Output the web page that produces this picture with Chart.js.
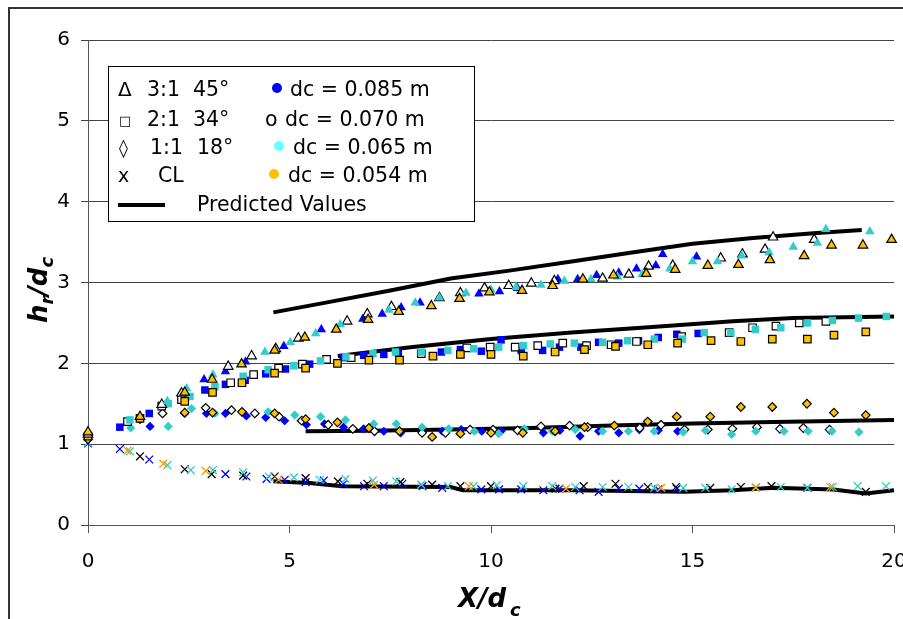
<!DOCTYPE html>
<html>
<head>
<meta charset="utf-8">
<script src="https://cdn.jsdelivr.net/npm/chart.js@4.4.0/dist/chart.umd.min.js"></script>
<style>
  html, body { margin: 0; padding: 0; background: #fff; }
  #wrap { width: 903px; height: 619px; }
</style>
</head>
<body>
<div id="wrap"><canvas id="myChart" width="903" height="619"></canvas></div>
<script>
// [X/dc, hr/dc]
// 3:1 45 deg (triangles)
const triBlue = [[2.88,1.80],[3.41,1.90],[3.91,2.02],[4.86,2.21],[5.79,2.42],[6.82,2.55],[7.30,2.61],[7.77,2.69],[8.24,2.75],[9.70,2.86],[10.21,2.89],[10.66,2.93],[11.66,3.04],[12.15,3.04],[12.62,3.09],[13.17,3.12],[13.61,3.17],[14.09,3.21],[14.26,3.35],[15.10,3.32]];
const triOpen = [[0,1.12],[1.83,1.49],[2.32,1.63],[3.48,1.96],[4.06,2.09],[4.66,2.18],[5.22,2.31],[6.43,2.52],[6.93,2.61],[7.53,2.70],[8.72,2.81],[9.24,2.87],[9.84,2.93],[10.44,2.96],[11.0,2.99],[11.57,3.02],[12.77,3.05],[13.42,3.10],[13.91,3.20],[14.51,3.21],[15.70,3.30],[16.24,3.35],[16.80,3.41],[17.0,3.56],[18.02,3.53]];
const triCyan = [[1.97,1.53],[2.45,1.69],[3.10,1.86],[4.39,2.14],[5.02,2.26],[5.65,2.37],[6.26,2.48],[7.47,2.66],[8.12,2.75],[8.72,2.81],[9.38,2.87],[10.0,2.91],[10.62,2.94],[11.24,2.97],[11.82,3.02],[12.48,3.04],[13.14,3.07],[13.75,3.10],[14.44,3.17],[15.0,3.26],[15.62,3.26],[16.22,3.33],[16.90,3.37],[17.50,3.44],[18.10,3.49],[18.31,3.66],[19.40,3.63]];
const triOrange = [[0,1.15],[1.29,1.34],[2.40,1.64],[3.08,1.80],[3.81,1.99],[4.63,2.16],[5.38,2.32],[6.16,2.42],[6.95,2.54],[7.71,2.64],[8.52,2.71],[9.22,2.80],[9.96,2.88],[10.77,2.90],[11.53,2.96],[12.28,3.04],[13.04,3.09],[13.85,3.11],[14.57,3.16],[15.38,3.21],[16.14,3.22],[16.92,3.28],[17.77,3.33],[18.45,3.46],[19.23,3.46],[19.94,3.53]];

// 2:1 34 deg (squares)
const sqBlue = [[0.79,1.21],[1.52,1.38],[2.90,1.67],[3.41,1.74],[3.90,1.79],[4.41,1.87],[4.90,1.93],[5.50,1.99],[6.33,2.07],[6.84,2.10],[7.34,2.11],[7.70,2.13],[8.77,2.14],[9.24,2.17],[9.76,2.15],[10.25,2.29],[10.75,2.16],[11.28,2.16],[11.70,2.20],[12.23,2.20],[12.67,2.26],[13.17,2.25],[13.66,2.28],[14.15,2.32],[14.61,2.36],[15.14,2.37]];
const sqOpen = [[0.98,1.28],[1.83,1.47],[2.32,1.55],[3.54,1.76],[4.11,1.86],[4.73,1.94],[5.32,1.99],[5.92,2.05],[6.53,2.07],[8.27,2.12],[9.40,2.19],[9.98,2.20],[10.60,2.20],[11.16,2.22],[11.78,2.25],[12.37,2.22],[12.98,2.23],[13.61,2.27],[14.73,2.33],[15.91,2.38],[16.49,2.44],[17.07,2.46],[17.65,2.50],[18.31,2.52]];
const sqCyan = [[1.04,1.30],[1.99,1.50],[2.53,1.59],[3.15,1.71],[3.85,1.84],[4.47,1.92],[5.11,1.97],[5.77,2.03],[6.40,2.08],[7.07,2.12],[7.63,2.14],[8.27,2.14],[8.93,2.16],[9.57,2.18],[10.19,2.20],[10.80,2.22],[11.47,2.24],[12.07,2.25],[12.77,2.26],[13.39,2.28],[14.05,2.30],[14.75,2.30],[15.29,2.38],[15.95,2.38],[16.56,2.42],[17.19,2.44],[17.85,2.50],[18.47,2.53],[19.12,2.56],[19.81,2.58]];
const sqOrange = [[0,1.10],[1.29,1.32],[2.40,1.53],[3.09,1.64],[3.82,1.76],[4.63,1.88],[5.40,1.94],[6.19,2.00],[6.97,2.04],[7.73,2.04],[8.56,2.09],[9.24,2.11],[10.0,2.11],[10.80,2.09],[11.59,2.14],[12.32,2.17],[13.09,2.21],[13.89,2.23],[14.63,2.25],[15.46,2.28],[16.20,2.27],[16.98,2.30],[17.85,2.30],[18.51,2.35],[19.30,2.39]];

// 1:1 18 deg (diamonds)
const dmBlue = [[1.54,1.22],[2.40,1.38],[2.94,1.38],[3.41,1.38],[3.93,1.35],[4.41,1.33],[4.88,1.29],[5.42,1.24],[5.87,1.25],[6.34,1.21],[6.84,1.19],[7.34,1.16],[7.76,1.14],[8.79,1.16],[9.26,1.18],[9.77,1.16],[10.25,1.16],[11.30,1.14],[11.71,1.17],[12.21,1.10],[12.67,1.16],[13.17,1.14],[13.68,1.18],[14.15,1.17],[14.63,1.16]];
const dmOpen = [[1.85,1.38],[2.92,1.45],[3.56,1.42],[4.14,1.38],[4.74,1.34],[5.30,1.29],[5.96,1.24],[6.57,1.19],[7.11,1.16],[8.29,1.14],[8.87,1.14],[9.48,1.18],[10.05,1.18],[10.66,1.17],[11.24,1.22],[11.95,1.23],[12.40,1.21],[13.69,1.20],[14.22,1.24],[14.80,1.18],[15.38,1.18],[15.99,1.19],[16.60,1.21],[17.17,1.19],[17.75,1.20],[18.40,1.18]];
const dmCyan = [[1.06,1.20],[1.99,1.22],[2.57,1.44],[3.15,1.38],[4.47,1.40],[5.13,1.36],[5.77,1.34],[6.39,1.30],[7.09,1.25],[7.65,1.25],[8.29,1.21],[8.95,1.19],[9.59,1.16],[10.19,1.13],[10.83,1.19],[11.52,1.16],[12.09,1.18],[12.77,1.16],[13.41,1.16],[14.05,1.16],[14.77,1.15],[15.32,1.17],[15.97,1.12],[16.57,1.16],[17.27,1.16],[17.87,1.16],[18.46,1.16],[19.13,1.15]];
const dmOrange = [[0,1.06],[1.29,1.31],[2.40,1.39],[3.09,1.39],[3.82,1.40],[4.63,1.38],[5.40,1.31],[6.19,1.27],[6.97,1.20],[7.73,1.16],[8.54,1.09],[9.24,1.13],[10.0,1.14],[10.79,1.14],[11.59,1.16],[12.32,1.21],[13.06,1.23],[13.89,1.28],[14.61,1.34],[15.44,1.34],[16.20,1.46],[16.98,1.46],[17.84,1.50],[18.51,1.39],[19.30,1.36]];

// CL (crosses)
const clBlue = [[0,1.01],[0.79,0.94],[1.52,0.81],[3.41,0.63],[3.93,0.60],[4.43,0.57],[4.88,0.56],[5.40,0.53],[5.85,0.55],[6.34,0.51],[6.85,0.48],[7.34,0.48],[7.80,0.51],[8.30,0.48],[8.79,0.46],[9.76,0.44],[10.20,0.44],[10.75,0.44],[11.30,0.43],[11.70,0.45],[12.20,0.43],[12.67,0.41],[13.17,0.45],[13.68,0.45],[14.15,0.44],[14.61,0.45]];
const clBlack = [[1.29,0.85],[2.40,0.69],[3.07,0.63],[3.85,0.61],[4.63,0.60],[5.40,0.58],[6.20,0.54],[6.93,0.51],[7.75,0.53],[8.54,0.50],[9.24,0.48],[10.0,0.48],[11.60,0.45],[12.30,0.48],[13.09,0.51],[13.89,0.47],[14.59,0.47],[15.44,0.46],[16.20,0.47],[16.96,0.48],[17.85,0.46],[19.30,0.41]];
const clCyan = [[0,1.02],[1.04,0.91],[1.97,0.74],[2.55,0.68],[3.10,0.68],[3.85,0.65],[4.49,0.60],[5.11,0.59],[5.75,0.56],[6.39,0.57],[7.07,0.55],[7.65,0.54],[8.27,0.50],[8.93,0.48],[9.56,0.48],[10.14,0.49],[10.80,0.48],[11.52,0.48],[12.09,0.47],[12.77,0.47],[13.41,0.47],[14.05,0.46],[14.77,0.46],[15.32,0.46],[15.97,0.44],[16.57,0.46],[17.19,0.47],[17.85,0.46],[18.48,0.47],[19.10,0.48],[19.80,0.48]];
const clOrange = [[0.98,0.92],[1.87,0.76],[2.92,0.67],[4.73,0.56],[7.10,0.50],[9.45,0.48],[11.86,0.45],[14.22,0.46],[16.57,0.47],[18.42,0.47]];

// predicted values
const predTri = [[4.6,2.63],[6,2.76],[7.5,2.9],[9,3.05],[10.5,3.15],[12,3.26],[13.5,3.37],[15,3.48],[16.5,3.55],[18,3.61],[19.2,3.65]];
const predSq = [[6.2,2.09],[8,2.2],[10,2.3],[12,2.38],[14,2.45],[16,2.52],[17.5,2.56],[20,2.58]];
const predDm = [[5.4,1.16],[7,1.165],[9,1.18],[11,1.2],[13,1.23],[15,1.255],[17,1.275],[20,1.3]];
const predCL = [[4.6,0.54],[5.5,0.52],[6.3,0.48],[9.0,0.47],[9.3,0.43],[12,0.43],[14.8,0.41],[16,0.43],[17,0.46],[18.5,0.44],[19.3,0.39],[20,0.43]];

const shapeLabels = ['\u0394', '\u25A1', '\u25CA', 'x'];
const angleLabels = [['3:1', '45\u00B0'], ['2:1', '34\u00B0'], ['1:1', '18\u00B0'], ['CL', '']];
const dcLabels = ['dc = 0.085 m', 'dc = 0.070 m', 'dc = 0.065 m', 'dc = 0.054 m'];
const yTicks = [0, 1, 2, 3, 4, 5, 6];
const xTicks = [0, 5, 10, 15, 20];

const BLUE = '#0000ff', CYAN = '#33cccc', ORANGE = '#ffc000', XORANGE = '#ff9900';
const FONT = '"DejaVu Sans", sans-serif';

function pts(arr) { return arr.map(p => ({ x: p[0], y: p[1] })); }

function marker(arr, style, fill, border, r, bw) {
  return {
    data: pts(arr), pointStyle: style, pointRadius: r,
    backgroundColor: fill, borderColor: border, borderWidth: bw,
    showLine: false, clip: false
  };
}
function predLine(arr) {
  return {
    data: pts(arr), showLine: true, borderColor: '#000', borderWidth: 4,
    pointRadius: 0, tension: 0, clip: false, fill: false
  };
}

// first in list is drawn on top
const datasets = [
  marker(triOrange, 'triangle', ORANGE, '#000', 5.5, 1.2),
  marker(triCyan, 'triangle', CYAN, CYAN, 5.5, 0),
  marker(triOpen, 'triangle', '#fff', '#000', 5.5, 1.2),
  marker(triBlue, 'triangle', BLUE, BLUE, 5.5, 0),
  marker(sqOrange, 'rect', ORANGE, '#000', 5.3, 1.2),
  marker(sqCyan, 'rect', CYAN, CYAN, 5.3, 0),
  marker(sqOpen, 'rect', '#fff', '#000', 5.3, 1.2),
  marker(sqBlue, 'rect', BLUE, BLUE, 5.3, 0),
  marker(dmOrange, 'rectRot', ORANGE, '#000', 4.3, 1.2),
  marker(dmCyan, 'rectRot', CYAN, CYAN, 4.6, 0),
  marker(dmOpen, 'rectRot', '#fff', '#000', 4.3, 1.2),
  marker(dmBlue, 'rectRot', BLUE, BLUE, 4.6, 0),
  marker(clOrange, 'crossRot', XORANGE, XORANGE, 5.5, 1.3),
  marker(clCyan, 'crossRot', CYAN, CYAN, 5.5, 1.3),
  marker(clBlack, 'crossRot', '#000', '#000', 5.5, 1.3),
  marker(clBlue, 'crossRot', BLUE, BLUE, 5.5, 1.3),
  predLine(predTri),
  predLine(predSq),
  predLine(predDm),
  predLine(predCL)
];

// white page + frame
const frame = {
  id: 'frame',
  beforeDraw(chart) {
    const c = chart.ctx;
    c.save();
    c.fillStyle = '#fff';
    c.fillRect(0, 0, chart.width, chart.height);
    c.strokeStyle = '#333';
    c.lineWidth = 2;
    c.strokeRect(9, 8, 1000, 1000);
    c.restore();
  }
};

// legend box and axis titles drawn by hand
const extras = {
  id: 'extras',
  afterDraw(chart) {
    const c = chart.ctx;
    c.save();
    c.fillStyle = '#fff';
    c.fillRect(108, 66, 366, 155);
    c.strokeStyle = '#000';
    c.lineWidth = 1;
    c.strokeRect(108.5, 66.5, 366, 155);

    const base = [96, 126, 154, 182];
    c.fillStyle = '#000';
    c.textBaseline = 'alphabetic';
    c.textAlign = 'left';
    // left column
    c.font = '20px ' + FONT;
    c.fillText(shapeLabels[0], 118, base[0]);
    c.font = '13px ' + FONT;
    c.fillText(shapeLabels[1], 119, base[1] - 1);
    c.font = 'bold 18px ' + FONT;
    c.fillText(shapeLabels[2], 119, base[2]);
    c.font = '19px ' + FONT;
    c.fillText(shapeLabels[3], 118, base[3]);
    c.font = '20.5px ' + FONT;
    const angX = [[147, 193], [147, 193], [150, 197], [158, 0]];
    angleLabels.forEach((a, i) => {
      c.fillText(a[0], angX[i][0], base[i]);
      if (a[1]) c.fillText(a[1], angX[i][1], base[i]);
    });
    // right column
    const dcX = [290, 285, 293, 288];
    dcLabels.forEach((t, i) => c.fillText(t, dcX[i], base[i]));
    c.fillText('o', 265, base[1]);
    const dots = [[277, BLUE], null, [279, '#66ffff'], [274, ORANGE]];
    dots.forEach((d, i) => {
      if (!d) return;
      c.beginPath();
      c.arc(d[0], base[i] - 8, 5, 0, Math.PI * 2);
      c.fillStyle = d[1];
      c.fill();
    });
    c.fillStyle = '#000';
    c.fillRect(118, 203, 47, 4);
    c.fillText('Predicted Values', 197, 211);

    // x title
    c.font = 'italic bold 26px ' + FONT;
    c.fillText('X/d', 458, 607);
    c.font = 'italic bold 18px ' + FONT;
    c.fillText('c', 510, 616);

    // y title
    c.translate(47, 290);
    c.rotate(-Math.PI / 2);
    const big = 'italic bold 26px ' + FONT, small = 'italic bold 18px ' + FONT;
    const parts = [['h', big, 0], ['r', small, 6], ['/d', big, 0], ['c', small, 6]];
    let w = 0;
    parts.forEach(p => { c.font = p[1]; w += c.measureText(p[0]).width; });
    let x = -w / 2;
    parts.forEach(p => { c.font = p[1]; c.fillText(p[0], x, p[2]); x += c.measureText(p[0]).width; });
    c.restore();
  }
};

const ctx = document.getElementById('myChart');
const chart = new Chart(ctx, {
  type: 'scatter',
  data: { datasets: datasets },
  options: {
    responsive: false,
    animation: false,
    devicePixelRatio: 1,
    events: [],
    layout: { padding: { left: 0, top: 40, right: 9, bottom: 0 } },
    plugins: { legend: { display: false }, tooltip: { enabled: false }, title: { display: false } },
    scales: {
      x: {
        type: 'linear', min: 0, max: 20,
        afterBuildTicks: s => { s.ticks = xTicks.map(v => ({ value: v })); },
        afterFit: s => { s.height = 94; s.paddingLeft = 0; s.paddingRight = 0; },
        ticks: { color: '#000', font: { family: FONT, size: 20 }, padding: 17, maxRotation: 0 },
        grid: { drawOnChartArea: false, drawTicks: true, tickLength: 8, color: '#555', lineWidth: 1 },
        border: { display: true, color: '#555', width: 1 }
      },
      y: {
        type: 'linear', min: 0, max: 6,
        afterBuildTicks: s => { s.ticks = yTicks.map(v => ({ value: v })); },
        afterFit: s => { s.width = 88; s.paddingTop = 0; s.paddingBottom = 0; },
        ticks: { color: '#000', font: { family: FONT, size: 20 }, padding: 11 },
        grid: { drawOnChartArea: true, drawTicks: true, tickLength: 7, color: '#444', lineWidth: 1 },
        border: { display: true, color: '#555', width: 1 }
      }
    }
  },
  plugins: [frame, extras]
});
</script>
</body>
</html>
